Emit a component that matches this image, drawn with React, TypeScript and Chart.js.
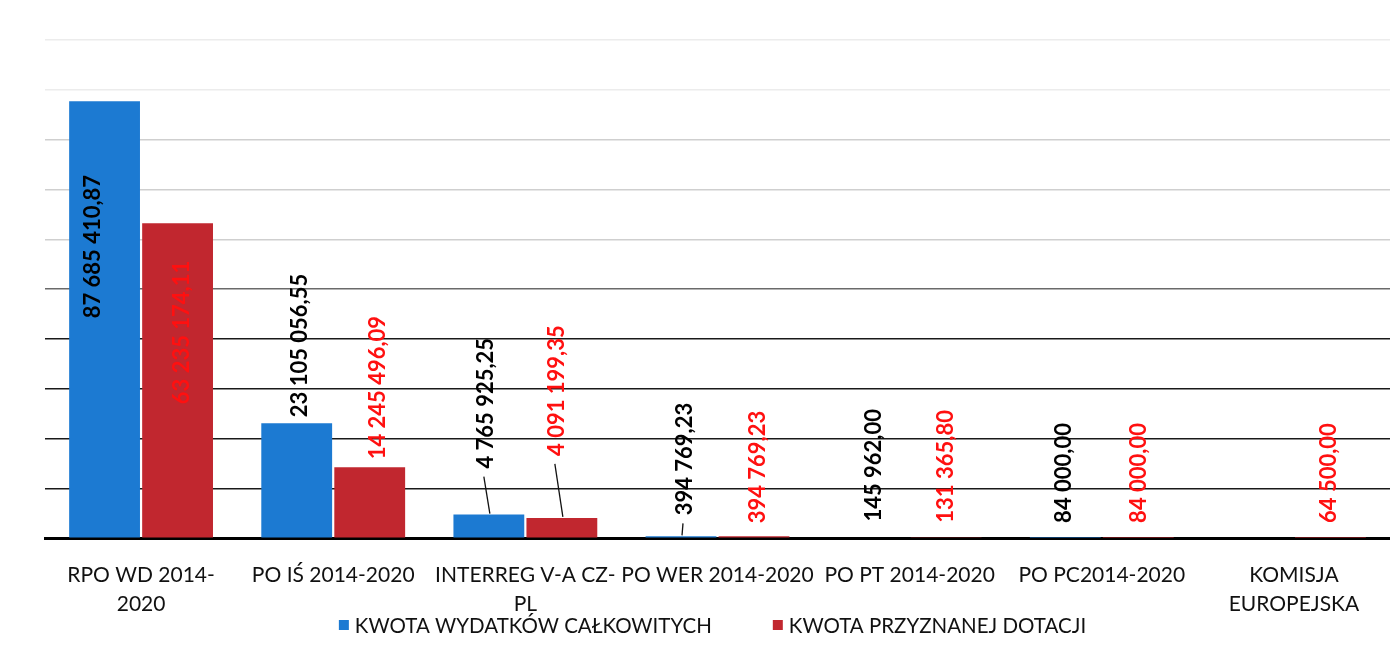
import React, { useEffect, useRef } from "react";
import { Chart, registerables } from "chart.js";

Chart.register(...registerables);

const categories: (string | string[])[] = [
  ["RPO WD 2014-", "2020"],
  "PO IŚ 2014-2020",
  ["INTERREG V-A CZ-", "PL"],
  "PO WER 2014-2020",
  "PO PT 2014-2020",
  "PO PC2014-2020",
  ["KOMISJA", "EUROPEJSKA"],
];

const totalExpenditure: (number | null)[] = [
  87685410.87, 23105056.55, 4765925.25, 394769.23, 145962.0, 84000.0, null,
];

const grantAmount: (number | null)[] = [
  63235174.11, 14245496.09, 4091199.35, 394769.23, 131365.8, 84000.0, 64500.0,
];

const seriesNames = ["KWOTA WYDATKÓW CAŁKOWITYCH", "KWOTA PRZYZNANEJ DOTACJI"];

// label placement (pixels): gap between bar top and label start (negative = inside bar), horizontal shift
const labelGaps = [
  [-217, 6, 46, 21, 16, 15, 0],
  [-181, 8, 62, 13, 15, 15, 15],
];
const labelShifts = [
  [-12, 3, -3, 4, 1, -1, 0],
  [4, 8, -5, 4, 0, 1, -2],
];

const FONT = "Lato, 'Open Sans', sans-serif";

function formatPL(v: number): string {
  const [intPart, dec] = v.toFixed(2).split(".");
  const withSpaces = intPart.replace(/\B(?=(\d{3})+(?!\d))/g, " ");
  return withSpaces + "," + dec;
}

const labelPlugin = {
  id: "valueLabels",
  afterDatasetsDraw(chart: any) {
    const ctx = chart.ctx;
    const colors = ["#000000", "#FF1010"];
    chart.data.datasets.forEach((ds: any, di: number) => {
      const meta = chart.getDatasetMeta(di);
      meta.data.forEach((bar: any, i: number) => {
        const v = ds.data[i];
        if (v == null) return;
        const gap = labelGaps[di][i];
        const x = bar.x + labelShifts[di][i];
        const yStart = bar.y - gap;
        ctx.save();
        if (gap > 20) {
          ctx.strokeStyle = "#111";
          ctx.lineWidth = 1.3;
          ctx.beginPath();
          ctx.moveTo(x - 2, yStart + 8);
          ctx.lineTo(bar.x + 1, bar.y - 1);
          ctx.stroke();
        }
        ctx.translate(x, yStart);
        ctx.rotate(-Math.PI / 2);
        ctx.font = `bold 22px ${FONT}`;
        ctx.fillStyle = colors[di];
        ctx.textAlign = "left";
        ctx.textBaseline = "middle";
        ctx.fillText(formatPL(v), 0, 0);
        ctx.restore();
      });
    });
  },
};

const legendPlugin = {
  id: "bottomLegend",
  afterDraw(chart: any) {
    const ctx = chart.ctx;
    const area = chart.chartArea;
    const box = 10;
    const boxGap = 6;
    const itemGap = 61;
    ctx.save();
    ctx.font = `20.5px ${FONT}`;
    const items = chart.data.datasets.map((ds: any) => ({
      text: ds.label,
      color: ds.backgroundColor,
      w: ctx.measureText(ds.label).width,
    }));
    const total =
      items.reduce((s: number, it: any) => s + box + boxGap + it.w, 0) + itemGap * (items.length - 1);
    let x = (area.left + area.right) / 2 - 5 - total / 2;
    const cy = 625;
    items.forEach((it: any) => {
      ctx.fillStyle = it.color;
      ctx.fillRect(x, cy - box / 2, box, box);
      x += box + boxGap;
      ctx.fillStyle = "#111";
      ctx.textAlign = "left";
      ctx.textBaseline = "middle";
      ctx.fillText(it.text, x, cy + 1);
      x += it.w + itemGap;
    });
    ctx.restore();
  },
};

export default function App() {
  const canvasRef = useRef<HTMLCanvasElement | null>(null);

  useEffect(() => {
    if (!canvasRef.current) return;
    const chart = new Chart(canvasRef.current, {
      type: "bar",
      data: {
        labels: categories,
        datasets: [
          {
            label: seriesNames[0],
            data: totalExpenditure,
            backgroundColor: "#1C7AD2",
            barPercentage: 0.97,
            categoryPercentage: 0.76,
          },
          {
            label: seriesNames[1],
            data: grantAmount,
            backgroundColor: "#C1272F",
            barPercentage: 0.97,
            categoryPercentage: 0.76,
          },
        ],
      },
      options: {
        animation: false,
        responsive: false,
        maintainAspectRatio: false,
        layout: { padding: { left: 45, right: 0, top: 40, bottom: 19 } },
        scales: {
          x: {
            grid: { display: false, drawTicks: false },
            border: { display: true, color: "#000", width: 3 },
            ticks: {
              color: "#111",
              padding: 23,
              maxRotation: 0,
              autoSkip: false,
              font: { family: FONT, size: 21, lineHeight: 1.35 },
            },
          },
          y: {
            min: 0,
            max: 100000000,
            ticks: { display: false, stepSize: 10000000 },
            border: { display: false },
            grid: {
              drawTicks: false,
              lineWidth: 1.5,
              color: (c: any) => {
                const v = c.tick ? c.tick.value : 0;
                if (v === 0) return "rgba(0,0,0,0)";
                if (v <= 40000000) return "#1a1a1a";
                if (v <= 50000000) return "#6a6a6a";
                if (v <= 80000000) return "#cfcfcf";
                return "#ececec";
              },
            },
          },
        },
        plugins: {
          legend: { display: false },
          tooltip: { enabled: false },
        },
      },
      plugins: [labelPlugin, legendPlugin],
    });
    return () => chart.destroy();
  }, []);

  return (
    <div style={{ position: "absolute", left: 0, top: 0, width: 1390, height: 660, background: "#fff" }}>
      <canvas ref={canvasRef} width={1390} height={660} style={{ width: 1390, height: 660 }} />
    </div>
  );
}
